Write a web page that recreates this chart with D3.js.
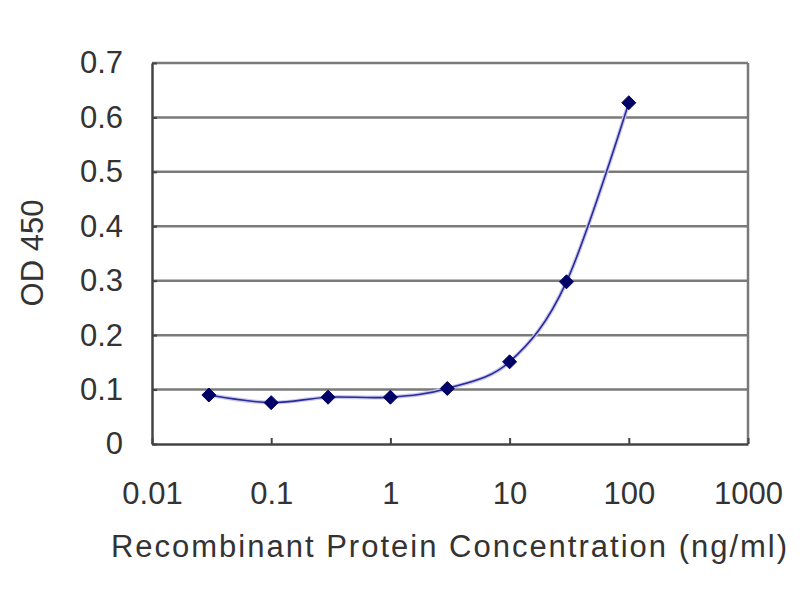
<!DOCTYPE html>
<html>
<head>
<meta charset="utf-8">
<script src="https://cdn.jsdelivr.net/npm/d3@7"></script>
<style>
  body { margin: 0; background: #fff; }
  text { font-family: "Liberation Sans", Arial, sans-serif; fill: #333; }
</style>
</head>
<body>
<div class="canvas"></div>
<script>
// data
const concentrations = [0.03, 0.1, 0.3, 1, 3, 10, 30, 100];
const odValues = [0.090, 0.076, 0.086, 0.086, 0.102, 0.151, 0.298, 0.627];
const xTicks = [0.01, 0.1, 1, 10, 100, 1000];
const yTicks = [0, 0.1, 0.2, 0.3, 0.4, 0.5, 0.6, 0.7];
const xTitle = 'Recombinant Protein Concentration (ng/ml)';
const yTitle = 'OD 450';

const dims = { width: 800, height: 600 };
const plot = { left: 152, right: 748, top: 63, bottom: 444 };

const svg = d3.select('.canvas')
    .append('svg')
    .attr('width', dims.width)
    .attr('height', dims.height)
;

const x = d3.scaleLog()
    .domain([0.01, 1000])
    .range([plot.left, plot.right])
;
const y = d3.scaleLinear()
    .domain([0, 0.7])
    .range([plot.bottom, plot.top])
;

// grid lines + top / right border
svg.append('g')
    .selectAll('line')
    .data(yTicks.slice(1))
    .enter().append('line')
    .attr('x1', plot.left).attr('x2', plot.right)
    .attr('y1', d => y(d)).attr('y2', d => y(d))
    .attr('stroke', '#7a7a7a')
    .attr('stroke-width', 2.5)
;
svg.append('line')
    .attr('x1', plot.right).attr('x2', plot.right)
    .attr('y1', plot.top).attr('y2', plot.bottom)
    .attr('stroke', '#7a7a7a')
    .attr('stroke-width', 2.5)
;

// axes
const xAxis = d3.axisBottom(x)
    .tickValues(xTicks)
    .tickFormat(d => String(d))
    .tickSizeInner(-6)
    .tickSizeOuter(0)
    .tickPadding(38)
;
const yAxis = d3.axisLeft(y)
    .tickValues(yTicks)
    .tickFormat(d => String(d))
    .tickSizeInner(-5)
    .tickSizeOuter(0)
    .tickPadding(29)
;

const gx = svg.append('g')
    .attr('transform', `translate(0, ${plot.bottom})`)
    .call(xAxis);
const gy = svg.append('g')
    .attr('transform', `translate(${plot.left}, 0)`)
    .call(yAxis);

[gx, gy].forEach(g => {
    g.select('.domain').attr('stroke', '#444').attr('stroke-width', 2.5);
    g.selectAll('.tick line').attr('stroke', '#444').attr('stroke-width', 2);
    g.selectAll('.tick text')
        .attr('fill', '#333')
        .style('font-size', '31px')
        .style('font-family', '"Liberation Sans", Arial, sans-serif');
});

// smoothed curve like the spreadsheet
const points = concentrations.map((c, i) => ({ c, v: odValues[i] }));

const line = d3.line()
    .x(d => x(d.c))
    .y(d => y(d.v))
    .curve(d3.curveCardinal.tension(0))
;

svg.append('path')
    .datum(points)
    .attr('fill', 'none')
    .attr('stroke', '#c8c8ee')
    .attr('stroke-width', 4)
    .attr('d', line);
svg.append('path')
    .datum(points)
    .attr('fill', 'none')
    .attr('stroke', '#2a2a9a')
    .attr('stroke-width', 1.6)
    .attr('d', line);

svg.append('g')
    .selectAll('path')
    .data(points)
    .enter().append('path')
    .attr('d', d3.symbol().type(d3.symbolDiamond2).size(125))
    .attr('transform', d => `translate(${x(d.c)}, ${y(d.v)})`)
    .attr('fill', '#000066')
    .attr('stroke', '#000066')
    .attr('stroke-width', 1)
;

// titles
svg.append('text')
    .attr('x', (plot.left + plot.right) / 2)
    .attr('y', 557)
    .attr('text-anchor', 'middle')
    .style('font-size', '31px')
    .style('letter-spacing', '2px')
    .text(xTitle);

svg.append('text')
    .attr('transform', `translate(43, 253) rotate(-90)`)
    .attr('text-anchor', 'middle')
    .style('font-size', '31px')
    .text(yTitle);
</script>
</body>
</html>
